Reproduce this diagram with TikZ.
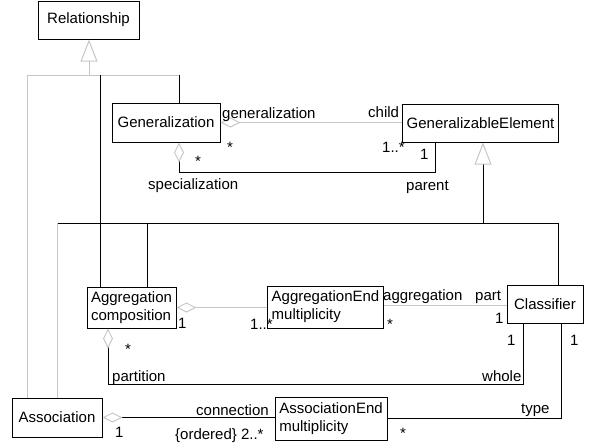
\documentclass[tikz,border=0pt]{standalone}
\usepackage{fontspec}
\setmainfont{Liberation Sans}
\usetikzlibrary{arrows.meta,positioning}
\newcommand{\umlfont}{\fontsize{15}{18}\selectfont}
\tikzset{
  umlclass/.style={
    draw,
    line width=1pt,
    align=left,
    inner sep=4pt,
    font=\umlfont
  },
  role/.style={
    anchor=base west,
    inner sep=0pt,
    font=\umlfont
  },
  link/.style={
    line width=1pt
  },
  faint/.style={
    line width=1pt,
    draw=gray!45
  },
  whole/.style={
    {Diamond[open,color=gray!45,length=20pt,width=10pt]}-
  },
  kind/.style={
    -{Triangle[open,color=gray!45,length=22pt,width=17pt]}
  }
}

\begin{document}
\begin{tikzpicture}[x=1pt, y=-1pt, font=\umlfont]
  \useasboundingbox (0,0) rectangle (594,447);
  % classes
  \node[umlclass, minimum width=101pt, minimum height=38pt] (rel) at (88.5,20) {Relationship};
  \node[umlclass, minimum width=108pt, minimum height=39pt] (gen) at (166,122.5) {Generalization};
  \node[umlclass, minimum width=155pt, minimum height=38pt] (genel) at (480.5,123) {GeneralizableElement};
  \node[umlclass, minimum width=89pt, minimum height=41pt] (aggr) at (131.5,307.5) {Aggregation\\composition};
  \node[umlclass, minimum width=115pt, minimum height=42pt] (aggrend) at (325.5,307) {AggregationEnd\\multiplicity};
  \node[umlclass, minimum width=76pt, minimum height=38pt] (cls) at (545,304) {Classifier};
  \node[umlclass, minimum width=90pt, minimum height=39pt] (assoc) at (57,417.5) {Association};
  \node[umlclass, minimum width=112pt, minimum height=43pt] (assocend) at (331,418.5) {AssociationEnd\\multiplicity};

  % inheritance from Relationship
  \coordinate (relhub) at (89,75);
  \coordinate (relleft) at (27,75);
  \coordinate (relmid) at (100,75);
  \coordinate (relright) at (179,75);
  \draw[faint, kind] (relhub) -- (relhub |- rel.south);
  \draw[faint] (relleft) -- (relright);
  \draw[faint] (relleft) -- (relleft |- assoc.north);
  \draw[link] (relmid) -- (relmid |- aggr.north);
  \draw[link] (relright) -- (relright |- gen.north);

  % inheritance from GeneralizableElement
  \coordinate (gehub) at (483,223);
  \coordinate (geleft) at (57,223);
  \coordinate (gemid) at (147,223);
  \coordinate (geright) at (558,223);
  \draw[link, kind] (gehub) -- (gehub |- genel.south);
  \draw[link] (geleft) -- (geright) -- (geright |- cls.north);
  \draw[link] (gemid) -- (gemid |- aggr.north);
  \draw[faint] (geleft) -- (geleft |- assoc.north);

  % associations
  \draw[faint, whole] (gen.east) -- (gen.east -| genel.west);
  \draw[link, whole] (179,0 |- gen.south) |- (435,172) -- (435,0 |- genel.south);
  \draw[faint, whole] (aggr.east) -- (aggr.east -| aggrend.west);
  \draw[faint] (aggrend.east |- 0,305) -- (cls.west |- 0,305);
  \draw[link, whole] (108,0 |- aggr.south) |- (523,384) -- (523,0 |- cls.south);
  \draw[link] (561,0 |- cls.south) |- (assocend.east);
  \draw[link, whole] (assoc.east) -- (assoc.east -| assocend.west);

  % role names and multiplicities
  \node[role] (rgen) at (222,118) {generalization};
  \node[role] (rchild) at (368,117) {child};
  \node[role] (mgen) at (227,152) {*};
  \node[role] (mchild) at (382,152) {1..*};
  \node[role] (mparent) at (420,159) {1};
  \node[role] (mspec) at (195,166) {*};
  \node[role] (rspec) at (148,189) {specialization};
  \node[role] (rparent) at (406,190) {parent};
  \node[role] (mcomp) at (178,328) {1};
  \node[role] (maggrend) at (250,329) {1..*};
  \node[role] (raggr) at (383,300) {aggregation};
  \node[role] (rpart) at (475,300) {part};
  \node[role] (mpartend) at (387,329) {*};
  \node[role] (mpart) at (495,323) {1};
  \node[role] (mwhole) at (507,345) {1};
  \node[role] (mtype) at (570,345) {1};
  \node[role] (mpartition) at (125,354) {*};
  \node[role] (rpartition) at (112,381) {partition};
  \node[role] (rwhole) at (482,381) {whole};
  \node[role] (rtype) at (521,413) {type};
  \node[role] (rconn) at (196,415) {connection};
  \node[role] (mconn) at (115,437) {1};
  \node[role] (mord) at (175,439) {\{ordered\}\ 2..*};
  \node[role] (massocend) at (400,438) {*};
\end{tikzpicture}
\end{document}
